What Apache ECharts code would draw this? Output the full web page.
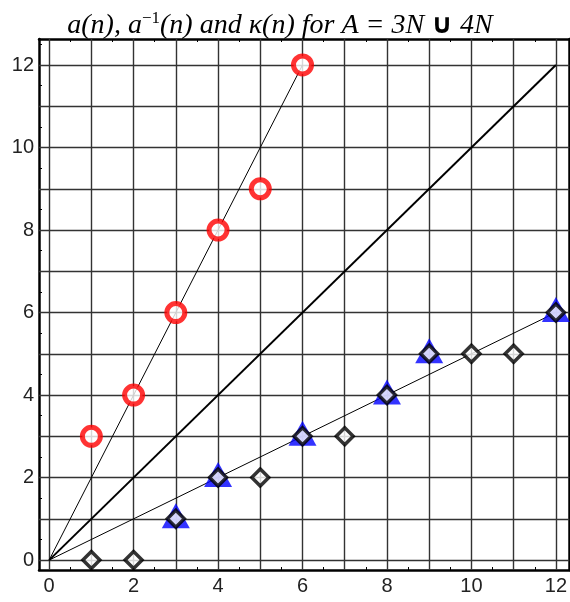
<!DOCTYPE html>
<html>
<head>
<meta charset="utf-8">
<script src="https://cdn.jsdelivr.net/npm/echarts@6/dist/echarts.min.js"></script>
<style>
  html, body { margin: 0; padding: 0; background: #fff; }
  #chart { width: 570px; height: 602px; }
</style>
</head>
<body>
<div id="chart"></div>
<script>
// a(n): elements of A = 3N u 4N
const aN = [[1, 3], [2, 4], [3, 6], [4, 8], [5, 9], [6, 12]];
// a^-1(n)
const aInv = [[3, 1], [4, 2], [6, 3], [8, 4], [9, 5], [12, 6]];
// kappa(n)
const kappa = [[1, 0], [2, 0], [3, 1], [4, 2], [5, 2], [6, 3], [7, 3], [8, 4], [9, 5], [10, 5], [11, 5], [12, 6]];
// reference lines y = 2x, y = x, y = x/2
const lineDouble = [[0, 0], [6, 12]];
const lineDiag = [[0, 0], [12, 12]];
const lineHalf = [[0, 0], [12, 6]];

const gridValues = [0, 1, 2, 3, 4, 5, 6, 7, 8, 9, 10, 11, 12];
const tickLabels = [0, 2, 4, 6, 8, 10, 12];
const minorTicks = [0, 0.5, 1, 1.5, 2, 2.5, 3, 3.5, 4, 4.5, 5, 5.5, 6, 6.5, 7, 7.5, 8, 8.5, 9, 9.5, 10, 10.5, 11, 11.5, 12, 12.5];

const chart = echarts.init(document.getElementById("chart"));

const gridLines = [
  ...gridValues.map(v => ({ xAxis: v })),
  ...gridValues.map(v => ({ yAxis: v }))
];

const labelStyle = {
  fontFamily: "Liberation Sans",
  fontSize: 20,
  color: "#222"
};

const titleFont = { fontFamily: "Liberation Serif", fontStyle: "italic", fontWeight: "normal", fontSize: 28, color: "#000" };

const option = {
  animation: false,
  title: {
    text: "{t|a(n), a}{s|−1}{t|(n) and κ(n) for A = 3N }{u|∪}{t| 4N}",
    left: 275,
    textAlign: "center",
    top: 5,
    textStyle: {
      fontWeight: "normal",
      rich: {
        t: titleFont,
        s: { fontFamily: "Liberation Serif", fontWeight: "normal", fontSize: 17, color: "#000", verticalAlign: "top", padding: [0, 0, 15, 0] },
        u: { fontFamily: "DejaVu Sans", fontWeight: "bold", fontSize: 27, color: "#000" }
      }
    }
  },
  grid: { left: 39, top: 39, width: 534, height: 531 },
  xAxis: [
    {
      type: "value",
      min: -0.24,
      max: 12.32,
      axisLine: { show: true, onZero: false, lineStyle: { color: "#000", width: 2.5 } },
      axisTick: { show: true, inside: true, length: 3, customValues: minorTicks, lineStyle: { color: "#000" } },
      axisLabel: { customValues: tickLabels, margin: 6, ...labelStyle },
      splitLine: { show: false }
    },
    {
      type: "value",
      position: "top",
      min: -0.24,
      max: 12.32,
      axisLine: { show: true, onZero: false, lineStyle: { color: "#000", width: 2.5 } },
      axisTick: { show: true, inside: true, length: 3, customValues: minorTicks, lineStyle: { color: "#000" } },
      axisLabel: { show: false },
      splitLine: { show: false }
    }
  ],
  yAxis: [
    {
      type: "value",
      min: -0.24,
      max: 12.63,
      axisLine: { show: true, onZero: false, lineStyle: { color: "#000", width: 2.5 } },
      axisTick: { show: true, inside: true, length: 3, customValues: minorTicks, lineStyle: { color: "#000" } },
      axisLabel: { customValues: tickLabels, margin: 5, ...labelStyle },
      splitLine: { show: false }
    },
    {
      type: "value",
      position: "right",
      min: -0.24,
      max: 12.63,
      axisLine: { show: true, onZero: false, lineStyle: { color: "#000", width: 2.5 } },
      axisTick: { show: false },
      axisLabel: { show: false },
      splitLine: { show: false }
    }
  ],
  series: [
    {
      type: "line",
      data: lineDouble,
      symbol: "none",
      lineStyle: { color: "#000", width: 1 },
      z: 3,
      markLine: {
        silent: true,
        symbol: ["none", "none"],
        label: { show: false },
        lineStyle: { color: "#333", width: 1.4, type: "solid" },
        data: gridLines,
        z: 1
      }
    },
    {
      type: "line",
      data: lineDiag,
      symbol: "none",
      lineStyle: { color: "#000", width: 2 },
      z: 3
    },
    {
      type: "line",
      data: lineHalf,
      symbol: "none",
      lineStyle: { color: "#000", width: 1 },
      z: 3
    },
    {
      name: "a(n)",
      type: "scatter",
      data: aN,
      symbol: "circle",
      symbolSize: 18,
      itemStyle: { color: "#fff", borderColor: "#ff0000", borderWidth: 5 },
      z: 5
    },
    {
      name: "a^-1(n)",
      type: "scatter",
      data: aInv,
      symbol: "triangle",
      symbolSize: [28, 25],
      symbolOffset: [0, -3],
      itemStyle: { color: "#0000ff" },
      z: 5
    },
    {
      name: "kappa(n)",
      type: "scatter",
      data: kappa,
      symbol: "diamond",
      symbolSize: 17,
      itemStyle: { color: "#fff", borderColor: "#000", borderWidth: 3.5 },
      z: 6
    }
  ]
};

chart.setOption(option);
</script>
</body>
</html>
